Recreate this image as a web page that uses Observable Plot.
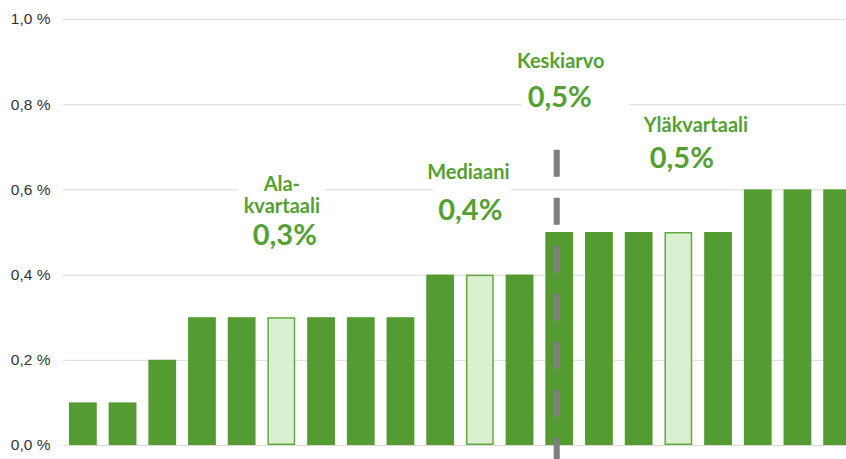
<!DOCTYPE html>
<html><head><meta charset="utf-8">
<script src="https://cdn.jsdelivr.net/npm/d3@7"></script>
<script src="https://cdn.jsdelivr.net/npm/@observablehq/plot@0.6"></script>
<style>html,body{margin:0;padding:0;overflow:hidden;background:#fff}
#chart{width:858px}
#chart svg{max-width:none !important;height:459px !important;display:block}</style>
</head><body><div id="chart"></div>
<script>
// ---- data ----
const categories = ["1","2","3","4","5","6","7","8","9","10","11","12","13","14","15","16","17","18","19","20"];
const values = [0.1,0.1,0.2,0.3,0.3,0.3,0.3,0.3,0.3,0.4,0.4,0.4,0.5,0.5,0.5,0.5,0.5,0.6,0.6,0.6];
const highlighted = ["6","11","16"];
const yTicks = [0,0.2,0.4,0.6,0.8,1.0];
const yTickLabels = ["0,0 %","0,2 %","0,4 %","0,6 %","0,8 %","1,0 %"];
const annotationLabels = ["Ala-\nkvartaali","Mediaani","Keskiarvo","Yläkvartaali"];
const annotationValues = ["0,3%","0,4%","0,5%","0,5%"];
const annotationBars = ["6","11","13","16"];
const meanBar = "13";

// ---- styling / layout ----
const green = "#549B31", lightFill = "#DAF0D0", lightStroke = "#62AA40", textGreen = "#55A033";
const data = categories.map((c, i) => ({c, v: values[i], light: highlighted.includes(c)}));
const labelLayout = [{y:0.587, dx:0}, {y:0.642, dx:-12}, {y:0.903, dx:1}, {y:0.752, dx:17}];
const valueLayout = [{y:0.493, dx:3}, {y:0.55, dx:-10}, {y:0.816, dx:0}, {y:0.673, dx:3}];
const boxLayout = [
  {y1:0.46, y2:0.64, l:-29.5, r:-29.8},
  {y1:0.51, y2:0.674, l:-33, r:-17.3},
  {y1:0.78, y2:0.93, l:-24.4, r:-55.9},
  null
];

const marks = [
  Plot.ruleY(yTicks, {stroke: "#d9d9d9", strokeWidth: 1}),
  Plot.axisY({ticks: yTicks, tickFormat: d => yTickLabels[yTicks.indexOf(d)], tickSize: 0, tickPadding: 13,
    fontSize: 15.5, fill: "#333", fontFamily: "Liberation Sans, Arial, sans-serif", label: null})
];
annotationBars.forEach((b, i) => {
  const bx = boxLayout[i];
  if (bx) marks.push(Plot.barY([{c: b}], {x: "c", y1: () => bx.y1, y2: () => bx.y2, fill: "white",
    insetLeft: bx.l, insetRight: bx.r}));
});
marks.push(
  Plot.barY(data.filter(d => !d.light), {x: "c", y: "v", fill: green}),
  Plot.barY(data.filter(d => d.light), {x: "c", y: "v", fill: lightFill, stroke: lightStroke, strokeWidth: 1.5, inset: 0.75}),
  Plot.ruleX([meanBar], {x: d => d, y1: () => 0.693, y2: () => -0.033, dx: -3, stroke: "#7f7f7f", strokeWidth: 6, strokeDasharray: "27,21"})
);
annotationBars.forEach((b, i) => {
  marks.push(Plot.text([annotationLabels[i]], {x: () => b, y: () => labelLayout[i].y, text: d => d, dx: labelLayout[i].dx,
    fill: textGreen, fontSize: 20, fontWeight: "bold", fontFamily: "Lato, sans-serif", lineHeight: 1.1, textAnchor: "middle"}));
  marks.push(Plot.text([annotationValues[i]], {x: () => b, y: () => valueLayout[i].y, text: d => d, dx: valueLayout[i].dx,
    fill: textGreen, fontSize: 29, fontWeight: "bold", fontFamily: "Lato, sans-serif", textAnchor: "middle"}));
});

const chart = Plot.plot({
  width: 858, height: 459,
  marginLeft: 63, marginRight: 1, marginTop: 19, marginBottom: 14,
  x: {type: "band", domain: categories, paddingInner: 0.3, paddingOuter: 0.15, round: false, axis: null},
  y: {domain: [0, 1], axis: null},
  style: {fontFamily: "Liberation Sans, Arial, sans-serif", background: "white", overflow: "visible", maxWidth: "none"},
  marks
});
document.getElementById("chart").append(chart);
</script>
</body></html>
